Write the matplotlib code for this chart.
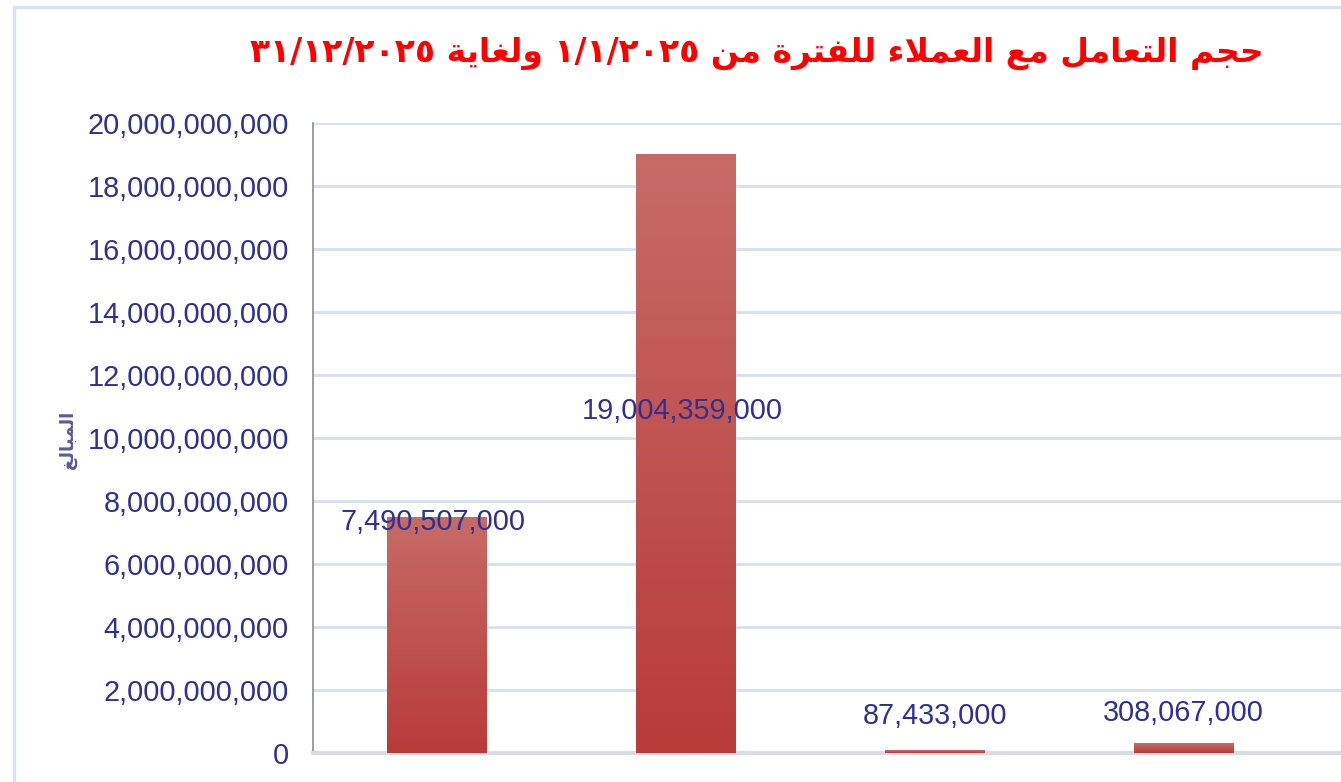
import numpy as np
import matplotlib.pyplot as plt
from matplotlib.patches import Rectangle
from matplotlib.colors import LinearSegmentedColormap

# data
values = [7490507000, 19004359000, 87433000, 308067000]
value_labels = ['7,490,507,000', '19,004,359,000', '87,433,000', '308,067,000']
yticks = np.arange(0, 20000000001, 2000000000)
title_words = ['حجم', 'التعامل', 'مع', 'العملاء', 'للفترة', 'من', '١/١/٢٠٢٥', 'ولغاية', '٣١/١٢/٢٠٢٥']
ylabel_word = 'المبالغ'

# presentation forms: isolated, final, initial, medial (None = does not join forward)
forms = {
    'ا': ('\uFE8D', '\uFE8E', None, None),
    'ب': ('\uFE8F', '\uFE90', '\uFE91', '\uFE92'),
    'ة': ('\uFE93', '\uFE94', None, None),
    'ت': ('\uFE95', '\uFE96', '\uFE97', '\uFE98'),
    'ج': ('\uFE9D', '\uFE9E', '\uFE9F', '\uFEA0'),
    'ح': ('\uFEA1', '\uFEA2', '\uFEA3', '\uFEA4'),
    'ر': ('\uFEAD', '\uFEAE', None, None),
    'ع': ('\uFEC9', '\uFECA', '\uFECB', '\uFECC'),
    'غ': ('\uFECD', '\uFECE', '\uFECF', '\uFED0'),
    'ف': ('\uFED1', '\uFED2', '\uFED3', '\uFED4'),
    'ل': ('\uFEDD', '\uFEDE', '\uFEDF', '\uFEE0'),
    'م': ('\uFEE1', '\uFEE2', '\uFEE3', '\uFEE4'),
    'ن': ('\uFEE5', '\uFEE6', '\uFEE7', '\uFEE8'),
    'و': ('\uFEED', '\uFEEE', None, None),
    'ي': ('\uFEF1', '\uFEF2', '\uFEF3', '\uFEF4'),
    'ء': ('\uFE80', None, None, None),
}


def shape(word):
    if word[0] not in forms:
        return word  # digits, left to right
    # lam-alef ligature
    chars = []
    i = 0
    while i < len(word):
        if word[i] == 'ل' and i + 1 < len(word) and word[i + 1] == 'ا':
            chars.append('LA')
            i += 2
        else:
            chars.append(word[i])
            i += 1
    out = []
    prev_joins = False
    for k, ch in enumerate(chars):
        nxt = k + 1 < len(chars)
        if ch == 'LA':
            out.append('\uFEFC' if prev_joins else '\uFEFB')
            prev_joins = False
            continue
        iso, fin, ini, med = forms[ch]
        can_fwd = ini is not None and nxt
        if prev_joins and can_fwd:
            g = med
        elif prev_joins:
            g = fin if fin else iso
        elif can_fwd:
            g = ini
        else:
            g = iso
        out.append(g)
        prev_joins = can_fwd
    return ''.join(out[::-1])


def visual(words):
    return ' '.join(shape(w) for w in words[::-1])


text_col = '#2f3192'
grid_col = '#d3e0f1'

fig = plt.figure(figsize=(13.41, 7.82), dpi=100)
ax = fig.add_axes([313 / 1341, 29 / 782, 1 - 313 / 1341, 630 / 782])

x = np.arange(len(values))
bars = ax.bar(x, values, width=0.402, color='#bd4a47', zorder=2)
cmap = LinearSegmentedColormap.from_list('bar', ['#b83b3a', '#c76b67'])
grad = np.linspace(0, 1, 256).reshape(-1, 1)
for b in bars:
    x0, w, h = b.get_x(), b.get_width(), b.get_height()
    im = ax.imshow(grad, cmap=cmap, origin='lower', aspect='auto',
                   extent=[x0, x0 + w, 0, h], zorder=3)
    im.set_clip_path(b)

ax.set_xlim(-0.5, 3.633)
ax.set_ylim(0, 20000000000)
ax.set_yticks(yticks)
ax.set_yticklabels([f'{v:,.0f}' for v in yticks])
ax.set_xticks([])
ax.yaxis.grid(True, color=grid_col, linewidth=2, zorder=0)
ax.set_axisbelow(True)
ax.tick_params(axis='y', length=0, pad=17.5, labelsize=20.8, labelcolor=text_col)
for lbl in ax.get_yticklabels():
    lbl.set_fontfamily('Liberation Sans')
for s in ['top', 'right']:
    ax.spines[s].set_visible(False)
ax.spines['left'].set_color('#8c8c8c')
ax.spines['left'].set_linewidth(1.2)
ax.spines['bottom'].set_color('#d9dde3')
ax.spines['bottom'].set_linewidth(3)

# data labels (positions)
label_x = [-0.016, -0.016 + 1, 2, 3]
label_y = [7.33e9, 10.86e9, 1.17e9, 1.27e9]
for lx, ly, t in zip(label_x, label_y, value_labels):
    ax.text(x[0] + lx, ly, t, ha='center', va='center', fontsize=20.8,
            color=text_col, family='Liberation Sans', zorder=5)

fig.text(68 / 1341, 1 - 440 / 782, visual([ylabel_word]), rotation=90,
         ha='center', va='center', fontsize=13, fontweight='bold',
         color='#5b5b9c', family='DejaVu Sans')

fig.text(757 / 1341, 1 - 53 / 782, visual(title_words), ha='center',
         va='center', fontsize=23.8, fontweight='bold', color='#ff0000',
         family='DejaVu Sans')

# chart frame
fig.patches.append(Rectangle((14 / 1341, -0.1), 1.2, 1 - 7 / 782 + 0.1,
                             transform=fig.transFigure, fill=False,
                             edgecolor='#d6e3f4', linewidth=2.5))

plt.savefig('out.png', dpi=100)
